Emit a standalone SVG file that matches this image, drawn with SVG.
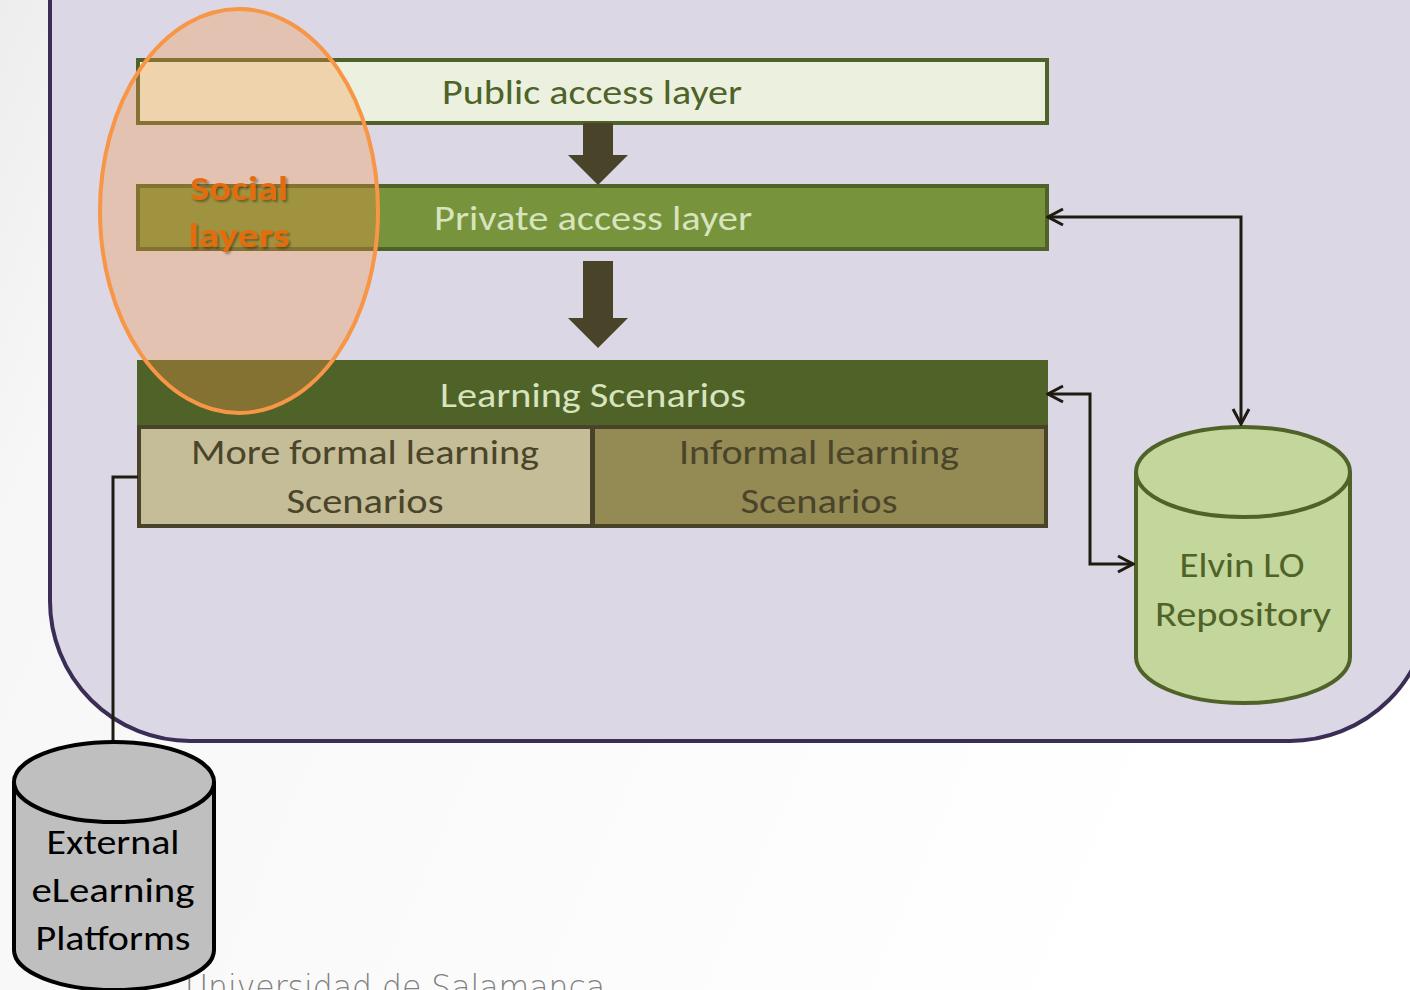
<svg xmlns="http://www.w3.org/2000/svg" width="1410" height="990" viewBox="0 0 1410 990">
<defs>
<linearGradient id="bg" x1="0" y1="0" x2="1" y2="0.3">
<stop offset="0" stop-color="#ededed"/>
<stop offset="0.15" stop-color="#f7f7f7"/>
<stop offset="1" stop-color="#ffffff"/>
</linearGradient>
<marker id="ah" viewBox="0 0 20 20" refX="18" refY="10" markerWidth="20" markerHeight="20" markerUnits="userSpaceOnUse" orient="auto-start-reverse">
<path d="M3,2 L18,10 L3,18" fill="none" stroke="#1e1c11" stroke-width="3"/>
</marker>
<filter id="sh" x="-20%" y="-20%" width="140%" height="140%">
<feDropShadow dx="2" dy="2" stdDeviation="1.2" flood-color="#000" flood-opacity="0.35"/>
</filter>
</defs>
<style>
.t{font-family:"Carlito","Liberation Sans Narrow","Liberation Sans",sans-serif;font-size:34px;text-anchor:middle}
.layer{stroke:#4f6228;stroke-width:4}
.blk{fill:#494429}
.con{fill:none;stroke:#1e1c11;stroke-width:3}
</style>
<rect width="1410" height="990" fill="url(#bg)"/>
<rect x="50" y="-160" width="1380" height="901" rx="140" ry="140" fill="#dcd7e4" stroke="#3b2d55" stroke-width="4"/>
<text x="185" y="999" font-family="'DejaVu Sans',sans-serif" font-size="33" fill="#808080" textLength="420" lengthAdjust="spacingAndGlyphs" font-weight="300">Universidad de Salamanca</text>

<g id="public-layer">
<rect class="layer" x="138" y="60" width="909" height="63" fill="#ebf1de"/>
<text class="t" x="592" y="104" fill="#4f6228" textLength="300" lengthAdjust="spacingAndGlyphs">Public access layer</text>
</g>
<g id="private-layer">
<rect class="layer" x="138" y="186" width="909" height="63" fill="#77933c"/>
<text class="t" x="593" y="230" fill="#d7e4bd" textLength="318" lengthAdjust="spacingAndGlyphs">Private access layer</text>
</g>
<g id="learning-scenarios">
<rect x="138" y="361" width="909" height="65" fill="#4f6228" stroke="#4f6228" stroke-width="2"/>
<text class="t" x="593" y="407" fill="#d7e4bd" textLength="306" lengthAdjust="spacingAndGlyphs">Learning Scenarios</text>
</g>
<g id="formal-scenarios">
<rect x="139" y="427" width="453" height="99" fill="#c4bd97" stroke="#494429" stroke-width="4"/>
<text class="t" x="365" y="464" fill="#4a452a" textLength="348" lengthAdjust="spacingAndGlyphs">More formal learning</text>
<text class="t" x="365" y="513" fill="#4a452a" textLength="157" lengthAdjust="spacingAndGlyphs">Scenarios</text>
</g>
<g id="informal-scenarios">
<rect x="593" y="427" width="453" height="99" fill="#948a54" stroke="#494429" stroke-width="4"/>
<text class="t" x="819" y="464" fill="#4a452a" textLength="280" lengthAdjust="spacingAndGlyphs">Informal learning</text>
<text class="t" x="819" y="513" fill="#4a452a" textLength="157" lengthAdjust="spacingAndGlyphs">Scenarios</text>
</g>
<g id="elvin-repository">
<path d="M1136,472 L1136,657 A107,46 0 0 0 1350,657 L1350,472 A107,45 0 0 0 1136,472 Z" fill="#c3d69b" stroke="#4f6228" stroke-width="4"/>
<path d="M1136,472 A107,45 0 0 0 1350,472" fill="none" stroke="#4f6228" stroke-width="4"/>
<text class="t" x="1242" y="577" fill="#4f6228" textLength="125" lengthAdjust="spacingAndGlyphs">Elvin LO</text>
<text class="t" x="1243" y="626" fill="#4f6228" textLength="176" lengthAdjust="spacingAndGlyphs">Repository</text>
</g>

<g id="connectors">
<path class="blk" d="M583,123 L613,123 L613,155 L628,155 L598,185 L568,155 L583,155 Z"/>
<path class="blk" d="M583,261 L613,261 L613,318 L628,318 L598,348 L568,318 L583,318 Z"/>
<path class="con" d="M1048,217 L1241,217 L1241,424" marker-start="url(#ah)" marker-end="url(#ah)"/>
<path class="con" d="M1048,394 L1090,394 L1090,564 L1133,564" marker-start="url(#ah)" marker-end="url(#ah)"/>
<path class="con" d="M138,477 L113,477 L113,742"/>
</g>

<g id="external-platforms">
<path d="M14,782 L14,950 A100,40 0 0 0 214,950 L214,782 A100,40 0 0 0 14,782 Z" fill="#bfbfbf" stroke="#000" stroke-width="4"/>
<path d="M14,782 A100,40 0 0 0 214,782" fill="none" stroke="#000" stroke-width="4"/>
<text class="t" x="113" y="854" fill="#000" textLength="133" lengthAdjust="spacingAndGlyphs">External</text>
<text class="t" x="113" y="902" fill="#000" textLength="163" lengthAdjust="spacingAndGlyphs">eLearning</text>
<text class="t" x="113" y="950" fill="#000" textLength="155" lengthAdjust="spacingAndGlyphs">Platforms</text>
</g>

<g id="social-layers">
<ellipse cx="239" cy="211" rx="139" ry="202" fill="#f79646" fill-opacity="0.32" stroke="#f79646" stroke-width="4"/>
<text class="t" x="239" y="200" fill="#e46c0a" font-weight="bold" filter="url(#sh)" textLength="98" lengthAdjust="spacingAndGlyphs">Social</text>
<text class="t" x="239" y="247" fill="#e46c0a" font-weight="bold" filter="url(#sh)" textLength="101" lengthAdjust="spacingAndGlyphs">layers</text>
</g>
</svg>
